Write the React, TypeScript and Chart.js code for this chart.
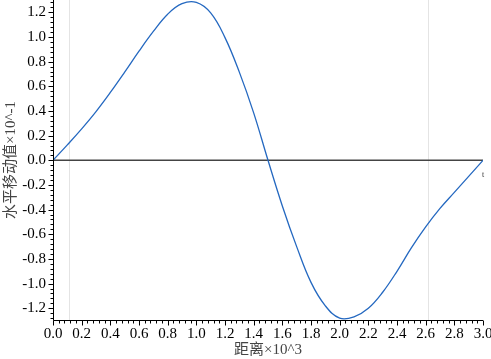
import React, { useEffect, useRef } from "react";
import { Chart, registerables } from "chart.js";

Chart.register(...registerables);

const distance = [0, 0.1, 0.2, 0.3, 0.4, 0.5, 0.6, 0.7, 0.8, 0.9, 1.0, 1.1, 1.2, 1.3, 1.4, 1.5, 1.6, 1.7, 1.8, 1.9, 2.0, 2.1, 2.2, 2.3, 2.4, 2.5, 2.6, 2.7, 2.8, 2.9, 3.0];
const displacement = [0, 0.125, 0.255, 0.395, 0.55, 0.715, 0.885, 1.045, 1.185, 1.27, 1.28, 1.195, 0.995, 0.715, 0.385, 0, -0.37, -0.7, -0.99, -1.18, -1.28, -1.27, -1.2, -1.07, -0.9, -0.71, -0.54, -0.39, -0.26, -0.13, 0];
const markerLines = [0.115, 2.615];
const xTitle = "距离×10^3";
const yTitle = "水平移动值×10^-1";
const endLabel = "t";

const SERIF = "\"Liberation Serif\", \"Noto Sans CJK SC\", serif";

const fmt = (v: number) => {
  const n = Math.round(v * 10) / 10;
  return (Math.abs(n) < 1e-9 ? 0 : n).toFixed(1);
};

const overlay = {
  id: "overlay",
  beforeDatasetsDraw(chart: any) {
    const { ctx, chartArea, scales } = chart;
    const xs = scales.x;
    const ys = scales.y;
    ctx.save();
    ctx.strokeStyle = "#e4e4e4";
    ctx.lineWidth = 1;
    for (const v of markerLines) {
      const px = Math.round(xs.getPixelForValue(v)) + 0.5;
      ctx.beginPath();
      ctx.moveTo(px, chartArea.top);
      ctx.lineTo(px, chartArea.bottom);
      ctx.stroke();
    }
    const y0 = ys.getPixelForValue(0);
    ctx.strokeStyle = "#444";
    ctx.lineWidth = 1.5;
    ctx.beginPath();
    ctx.moveTo(chartArea.left, y0);
    ctx.lineTo(chartArea.right, y0);
    ctx.stroke();
    ctx.restore();
  },
  afterDraw(chart: any) {
    const { ctx, chartArea, scales } = chart;
    const xs = scales.x;
    const ys = scales.y;
    ctx.save();
    ctx.strokeStyle = "#000";
    ctx.lineWidth = 1;
    const L = Math.round(chartArea.left) + 0.5;
    const B = Math.round(chartArea.bottom) + 0.5;
    ctx.beginPath();
    ctx.moveTo(L, chartArea.top);
    ctx.lineTo(L, B);
    ctx.lineTo(chartArea.right, B);
    ctx.stroke();
    for (let i = -40; i <= 40; i++) {
      const v = i * 0.04;
      if (v < ys.min - 1e-9 || v > ys.max + 1e-9) continue;
      const py = Math.round(ys.getPixelForValue(v)) + 0.5;
      const major = i % 5 === 0;
      ctx.beginPath();
      ctx.moveTo(L, py);
      ctx.lineTo(L - (major ? 5 : 3), py);
      ctx.stroke();
    }
    for (let i = 0; i <= 75; i++) {
      const v = i * 0.04;
      const px = Math.round(xs.getPixelForValue(v)) + 0.5;
      const major = i % 5 === 0;
      ctx.beginPath();
      ctx.moveTo(px, B);
      ctx.lineTo(px, B + (major ? 5 : 3));
      ctx.stroke();
    }
    // tick labels from the library's ticks
    ctx.fillStyle = "#000";
    ctx.font = "15px " + SERIF;
    ctx.textAlign = "right";
    ctx.textBaseline = "middle";
    for (const t of ys.ticks) {
      ctx.fillText(fmt(t.value), chartArea.left - 7, ys.getPixelForValue(t.value));
    }
    ctx.textAlign = "center";
    ctx.textBaseline = "middle";
    for (const t of xs.ticks) {
      ctx.fillText(fmt(t.value), xs.getPixelForValue(t.value), chartArea.bottom + 14);
    }
    // titles
    ctx.fillStyle = "#444";
    ctx.font = "15px " + SERIF;
    ctx.fillText(xTitle, (chartArea.left + chartArea.right) / 2, 350);
    ctx.save();
    ctx.translate(11, (chartArea.top + chartArea.bottom) / 2);
    ctx.rotate(-Math.PI / 2);
    ctx.fillText(yTitle, 0, 0);
    ctx.restore();
    ctx.fillStyle = "#333";
    ctx.font = "8px " + SERIF;
    ctx.fillText(endLabel, xs.getPixelForValue(3.0), ys.getPixelForValue(0) + 15);
    ctx.restore();
  },
};

export default function App() {
  const ref = useRef<HTMLCanvasElement>(null);
  useEffect(() => {
    document.body.style.margin = "0";
    const pts = distance.map((x, i) => ({ x, y: displacement[i] }));
    const chart = new Chart(ref.current as HTMLCanvasElement, {
      type: "line",
      data: {
        datasets: [
          {
            data: pts,
            borderColor: "#2468c0",
            borderWidth: 1.3,
            pointRadius: 0,
            tension: 0.4,
            fill: false,
          },
        ],
      },
      options: {
        animation: false,
        responsive: false,
        maintainAspectRatio: false,
        layout: { padding: { left: 0, right: 8, top: 0, bottom: 0 } },
        plugins: { legend: { display: false }, tooltip: { enabled: false } },
        scales: {
          x: {
            type: "linear",
            min: 0,
            max: 3,
            grid: { display: false, drawTicks: false },
            border: { display: false },
            ticks: { display: false, stepSize: 0.2, includeBounds: false, autoSkip: false },
            afterFit: (s: any) => {
              s.height = 39;
              s.paddingLeft = 0;
              s.paddingRight = 0;
            },
          },
          y: {
            min: -1.295,
            max: 1.3,
            grid: { display: false, drawTicks: false },
            border: { display: false },
            ticks: { display: false, stepSize: 0.2, includeBounds: false, autoSkip: false },
            afterFit: (s: any) => {
              s.width = 53;
              s.paddingTop = 0;
              s.paddingBottom = 0;
            },
          },
        },
      } as any,
      plugins: [overlay],
    });
    return () => chart.destroy();
  }, []);
  return (
    <div style={{ position: "absolute", left: 0, top: 0, width: 491, height: 359, background: "#fff" }}>
      <canvas ref={ref} width={491} height={359} style={{ display: "block" }} />
    </div>
  );
}
